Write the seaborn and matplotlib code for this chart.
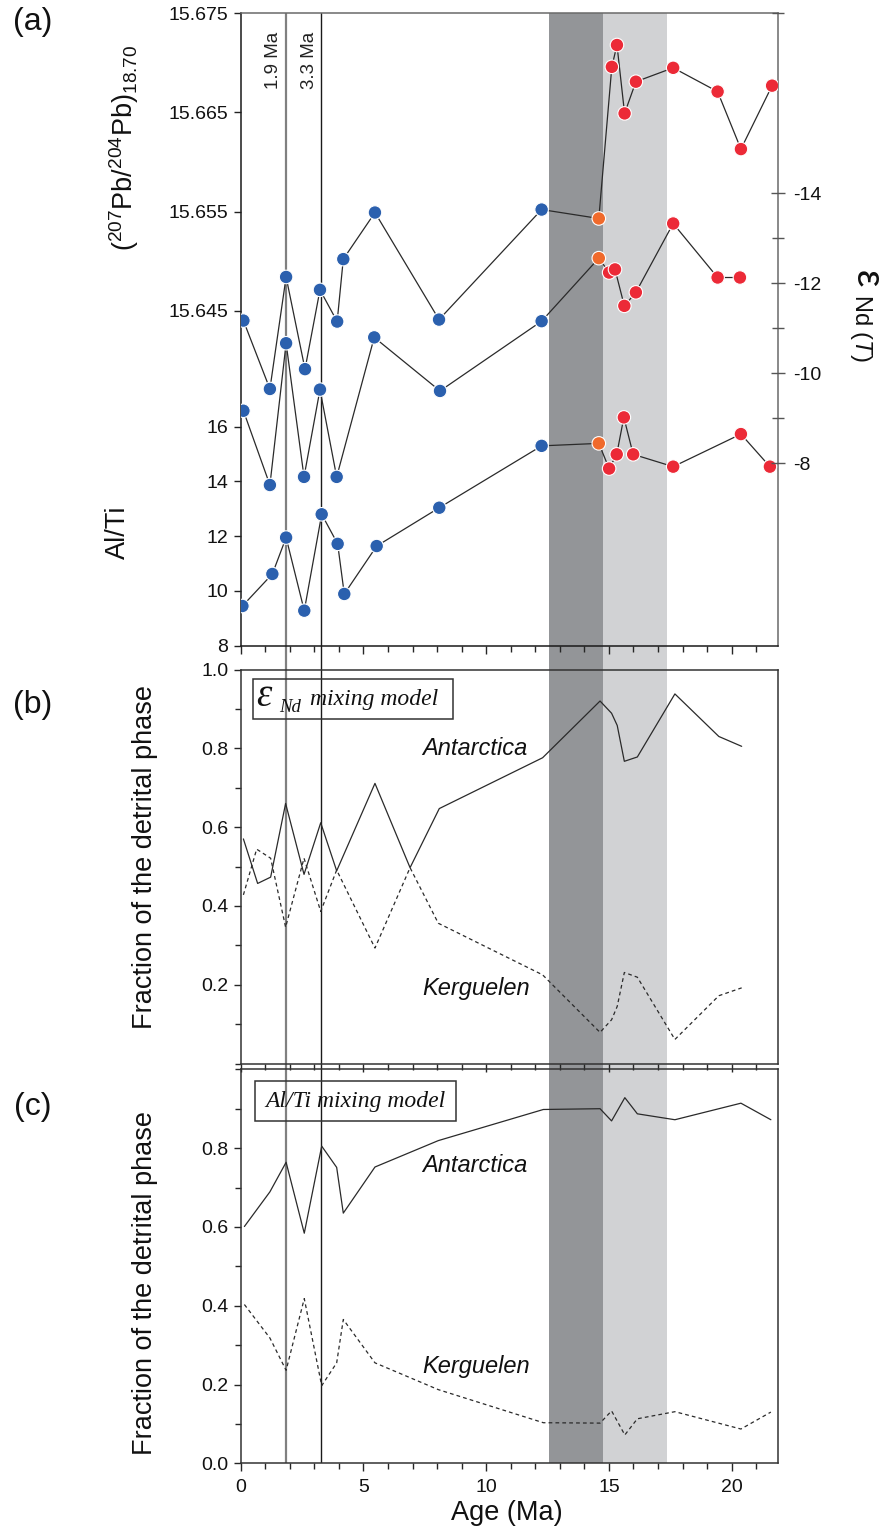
import matplotlib
matplotlib.use('Agg')
import matplotlib.pyplot as plt
import seaborn as sns
from matplotlib.patches import Rectangle
from matplotlib.ticker import MultipleLocator, FixedLocator

# ---------------- data ----------------
# Panel (a): 207Pb/204Pb (top series)
age_pb = [0.11, 1.19, 1.85, 2.62, 3.23, 3.93, 4.18, 5.47, 8.08, 12.26, 14.59,
          15.12, 15.33, 15.64, 16.10, 17.62, 19.43, 20.38, 21.65]
pb = [15.6440, 15.6371, 15.6484, 15.6391, 15.6471, 15.6439, 15.6502, 15.6549,
      15.6441, 15.6552, 15.6543, 15.6696, 15.6718, 15.6649, 15.6681, 15.6695,
      15.6671, 15.6613, 15.6677]
grp_pb = ['young'] * 10 + ['transition'] + ['old'] * 8

# Panel (a): eNd(T) (middle series, right axis)
age_nd = [0.11, 1.19, 1.85, 2.58, 3.23, 3.91, 5.44, 8.12, 12.26, 14.59, 15.01,
          15.25, 15.63, 16.10, 17.62, 19.43, 20.34]
nd = [-9.17, -7.52, -10.67, -7.70, -9.64, -7.70, -10.80, -9.61, -11.16, -12.56,
      -12.24, -12.31, -11.50, -11.80, -13.33, -12.13, -12.13]
grp_nd = ['young'] * 9 + ['transition'] + ['old'] * 7

# Panel (a): Al/Ti (bottom series)
age_alti = [0.07, 1.29, 1.85, 2.59, 3.30, 3.95, 4.22, 5.54, 8.09, 12.26, 14.59,
            15.01, 15.32, 15.61, 15.99, 17.62, 20.38, 21.56]
alti = [9.45, 10.62, 11.95, 9.28, 12.80, 11.72, 9.89, 11.64, 13.04, 15.30, 15.39,
        14.47, 14.99, 16.34, 14.99, 14.54, 15.73, 14.54]
grp_alti = ['young'] * 10 + ['transition'] + ['old'] * 7

# Panel (b): eNd mixing model
age_b_ant = [0.11, 0.69, 1.22, 1.83, 2.58, 3.26, 3.91, 5.47, 6.90, 8.09, 12.30,
             14.64, 15.11, 15.34, 15.63, 16.16, 17.69, 19.48, 20.41]
ant_b = [0.570, 0.457, 0.473, 0.660, 0.480, 0.611, 0.489, 0.711, 0.497, 0.647,
         0.776, 0.920, 0.889, 0.858, 0.767, 0.778, 0.938, 0.830, 0.805]
age_b_ker = [0.11, 0.65, 1.22, 1.83, 2.58, 3.26, 3.91, 5.47, 6.90, 8.05, 12.30,
             14.64, 15.11, 15.34, 15.63, 16.16, 17.69, 19.48, 20.41]
ker_b = [0.428, 0.544, 0.521, 0.346, 0.521, 0.386, 0.491, 0.293, 0.497, 0.356,
         0.225, 0.079, 0.111, 0.145, 0.231, 0.219, 0.061, 0.172, 0.192]

# Panel (c): Al/Ti mixing model
age_c = [0.15, 1.19, 1.85, 2.59, 3.30, 3.91, 4.18, 5.47, 8.05, 12.33, 14.64,
         15.11, 15.65, 16.16, 17.69, 20.38, 21.60]
ant_c = [0.601, 0.689, 0.764, 0.584, 0.805, 0.751, 0.635, 0.752, 0.819, 0.898,
         0.900, 0.869, 0.928, 0.887, 0.872, 0.914, 0.872]
ker_c = [0.403, 0.318, 0.236, 0.418, 0.197, 0.255, 0.365, 0.255, 0.187, 0.103,
         0.102, 0.133, 0.072, 0.113, 0.131, 0.087, 0.130]

# Event markers and shaded intervals (Ma)
event_ages = [1.83, 3.26]
event_labels = ['1.9 Ma', '3.3 Ma']
band_dark = [12.57, 14.76]
band_light = [14.76, 17.36]

pb_ticks = [15.645, 15.655, 15.665, 15.675]
alti_ticks = [8, 10, 12, 14, 16]
nd_ticks = [-14, -12, -10, -8]

# ---------------- style ----------------
sns.set_theme(style='ticks')
plt.rcParams['font.family'] = ['Liberation Sans', 'DejaVu Sans']
plt.rcParams['axes.unicode_minus'] = False
plt.rcParams['mathtext.fontset'] = 'custom'
plt.rcParams['mathtext.rm'] = 'Liberation Sans'
plt.rcParams['mathtext.it'] = 'Liberation Sans:italic'
plt.rcParams['mathtext.bf'] = 'Liberation Sans:bold'
plt.rcParams['text.color'] = '#111111'
plt.rcParams['xtick.labelcolor'] = '#111111'
plt.rcParams['ytick.labelcolor'] = '#111111'

palette = {'young': '#2b60ae', 'transition': '#f06a2c', 'old': '#ec2a37'}
LINE = '#2a2a2a'
TICK_FS = 14

W, H = 882, 1529
fig = plt.figure(figsize=(W / 100, H / 100), dpi=100)
fig.patch.set_facecolor('white')

XL, XR = 240.7, 777.5
XMAX = 21.87


def rect(top, bottom):
    return [XL / W, 1 - bottom / H, (XR - XL) / W, (bottom - top) / H]


def ftext(x, y, s, **kw):
    return fig.text(x / W, 1 - y / H, s, **kw)


# background axes for bands and event lines
ax_bg = fig.add_axes(rect(13.3, 1463.3), zorder=0)
ax_bg.set_xlim(0, XMAX)
ax_bg.set_ylim(0, 1)
ax_bg.axis('off')
ax_bg.axvspan(*band_dark, color='#939598', lw=0)
ax_bg.axvspan(*band_light, color='#d1d2d4', lw=0)
ax_bg.axvline(event_ages[0], color='#808080', lw=1.6)
ax_bg.axvline(event_ages[1], color='#1a1a1a', lw=1.0)

ax_a = fig.add_axes(rect(13.3, 645.7), zorder=2)
ax_b = fig.add_axes(rect(669.5, 1063.5), zorder=2)
ax_c = fig.add_axes(rect(1069.3, 1463.3), zorder=2)
for ax in (ax_a, ax_b, ax_c):
    ax.patch.set_visible(False)

ax_al = ax_a.twinx()
ax_nd = ax_a.twinx()
for ax in (ax_al, ax_nd):
    ax.patch.set_visible(False)
    for sp in ax.spines.values():
        sp.set_visible(False)


def series(ax, x, y, grp):
    sns.lineplot(x=x, y=y, ax=ax, sort=False, estimator=None, color=LINE,
                 lw=0.9, zorder=2)
    sns.scatterplot(x=x, y=y, hue=grp, palette=palette, s=95, edgecolor='white',
                    linewidth=0.8, legend=False, ax=ax, zorder=3)


series(ax_a, age_pb, pb, grp_pb)
series(ax_al, age_alti, alti, grp_alti)
series(ax_nd, age_nd, nd, grp_nd)

# ---- panel a axes ----
ax_a.set_xlim(0, XMAX)
ax_a.set_ylim(15.6112, 15.675)
ax_a.set_yticks(pb_ticks)
ax_a.set_yticklabels([f'{v:.3f}' for v in pb_ticks])
ax_al.set_ylim(8, 31.1)
ax_al.set_yticks(alti_ticks)
ax_al.set_yticklabels([str(v) for v in alti_ticks])
ax_al.yaxis.tick_left()
ax_nd.set_ylim(-3.95, -18)
ax_nd.set_yticks(nd_ticks)
ax_nd.set_yticklabels([str(v) for v in nd_ticks])
ax_nd.yaxis.set_minor_locator(FixedLocator([-18, -13, -11, -9]))
ax_nd.yaxis.tick_right()
ax_nd.tick_params(axis='y', which='major', direction='inout', length=10,
                  width=1, color='#555', labelsize=TICK_FS, pad=6)
ax_nd.tick_params(axis='y', which='minor', direction='inout', length=8,
                  width=1, color='#555')
for ax in (ax_a, ax_al):
    ax.tick_params(axis='y', direction='out', length=5, width=1, color='#222',
                   labelsize=TICK_FS, pad=4)
ax_a.spines['left'].set_color('#1a1a1a')
ax_a.spines['bottom'].set_color('#1a1a1a')
ax_a.spines['top'].set_color('#6a6a6a')
ax_a.spines['right'].set_color('#6a6a6a')
for sp in ax_a.spines.values():
    sp.set_linewidth(1.1)
for ax in (ax_a, ax_al, ax_nd):
    ax.set_xlabel('')
    ax.set_ylabel('')

# ---- panels b and c ----
sns.lineplot(x=age_b_ant, y=ant_b, ax=ax_b, sort=False, estimator=None,
             color=LINE, lw=0.9)
sns.lineplot(x=age_b_ker, y=ker_b, ax=ax_b, sort=False, estimator=None,
             color=LINE, lw=0.9, linestyle=(0, (3, 2.5)))
sns.lineplot(x=age_c, y=ant_c, ax=ax_c, sort=False, estimator=None,
             color=LINE, lw=0.9)
sns.lineplot(x=age_c, y=ker_c, ax=ax_c, sort=False, estimator=None,
             color=LINE, lw=0.9, linestyle=(0, (3, 2.5)))

for ax in (ax_b, ax_c):
    ax.set_ylim(0, 1.0)
    ax.yaxis.set_minor_locator(MultipleLocator(0.1))
    for sp in ax.spines.values():
        sp.set_visible(True)
        sp.set_color('#333')
        sp.set_linewidth(1.1)
    ax.set_xlabel('')
    ax.set_ylabel('')
    ax.tick_params(axis='y', which='major', direction='out', length=5,
                   width=1, labelsize=TICK_FS, pad=4)
    ax.tick_params(axis='y', which='minor', direction='out', length=4, width=1)

ax_b.set_yticks([0.2, 0.4, 0.6, 0.8, 1.0])
ax_b.set_yticklabels(['0.2', '0.4', '0.6', '0.8', '1.0'])
ax_c.set_yticks([0.0, 0.2, 0.4, 0.6, 0.8])
ax_c.set_yticklabels(['0.0', '0.2', '0.4', '0.6', '0.8'])

for ax in (ax_a, ax_b, ax_c):
    ax.set_xlim(0, XMAX)
    ax.xaxis.set_major_locator(MultipleLocator(5))
    ax.xaxis.set_minor_locator(MultipleLocator(1))
    ax.tick_params(axis='x', which='major', direction='out', length=6,
                   width=1, labelsize=TICK_FS, pad=5)
    ax.tick_params(axis='x', which='minor', direction='out', length=4, width=1)
    ax.tick_params(axis='x', top=False)
for ax in (ax_a, ax_b):
    ax.tick_params(axis='x', labelbottom=False)
for ax in (ax_al, ax_nd):
    ax.tick_params(axis='x', bottom=False, labelbottom=False)

ax_c.set_xticks([0, 5, 10, 15, 20])
ax_c.set_xticklabels(['0', '5', '10', '15', '20'])
ax_c.set_xlim(0, XMAX)

# ---------------- text ----------------
ftext(507, 1513, 'Age (Ma)', ha='center', va='center', fontsize=19.5)
for lab, yy in (('(a)', 22), ('(b)', 705), ('(c)', 1107)):
    ftext(33, yy, lab, ha='center', va='center', fontsize=23)
ftext(124, 148, r'$(^{207}\mathrm{Pb}/^{204}\mathrm{Pb})_{18.70}$',
      rotation=90, ha='center', va='center', fontsize=19.5)
ftext(118, 532, 'Al/Ti', rotation=90, ha='center', va='center', fontsize=19.5)
ftext(145, 857, 'Fraction of the detrital phase', rotation=90, ha='center',
      va='center', fontsize=19.5)
ftext(145, 1283, 'Fraction of the detrital phase', rotation=90, ha='center',
      va='center', fontsize=19.5)
ftext(866, 279, '\u03b5', rotation=270, ha='center', va='center', fontsize=28)
ftext(861, 328, r'Nd ($T$)', rotation=270, ha='center', va='center',
      fontsize=17)

for x, lab in zip((273, 310), event_labels):
    ftext(x, 60, lab, rotation=90, ha='center', va='center', fontsize=13.5,
          color='#222')

for (x, y, s) in ((475, 748, 'Antarctica'), (476, 988, 'Kerguelen'),
                  (475, 1166, 'Antarctica'), (476, 1367, 'Kerguelen')):
    ftext(x, y, s, ha='center', va='center', fontsize=17, style='italic')

# mixing-model boxes
for (x0, y0, x1, y1) in ((252.7, 679.3, 452.7, 719.3), (255, 1080.7, 456, 1121)):
    fig.add_artist(Rectangle((x0 / W, 1 - y1 / H), (x1 - x0) / W, (y1 - y0) / H,
                             transform=fig.transFigure, fc='none', ec='#333',
                             lw=1.1, zorder=5))
ftext(256.5, 706.5, '\u03b5', fontfamily='Liberation Serif', style='italic',
      fontsize=28, ha='left', va='baseline', zorder=6)
ftext(279, 711.5, 'Nd', fontfamily='Liberation Serif', style='italic',
      fontsize=13.5, ha='left', va='baseline', zorder=6)
ftext(310, 705, 'mixing model', fontfamily='Liberation Serif', style='italic',
      fontsize=17, ha='left', va='baseline', zorder=6)
ftext(265, 1106.7, 'Al/Ti mixing model', fontfamily='Liberation Serif',
      style='italic', fontsize=17, ha='left', va='baseline', zorder=6)

fig.savefig('out.png', dpi=100, facecolor='white')
